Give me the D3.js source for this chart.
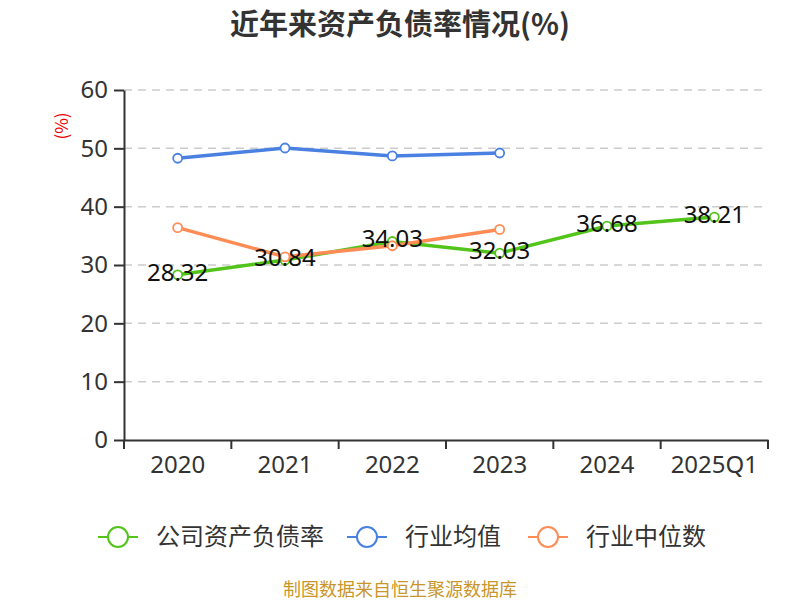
<!DOCTYPE html>
<html>
<head>
<meta charset="utf-8">
<script src="https://cdn.jsdelivr.net/npm/d3@7"></script>
<style>
body { margin: 0; background: #fff; }
svg { font-family: "Noto Sans CJK SC", "Noto Sans", sans-serif; }
</style>
</head>
<body>
<svg id="chart" width="800" height="600"></svg>
<script>
var years = ["2020", "2021", "2022", "2023", "2024", "2025Q1"];
var companyRate = [28.32, 30.84, 34.03, 32.03, 36.68, 38.21];
var industryAvg = [48.3, 50.06, 48.7, 49.2];
var industryMedian = [36.4, 31.4, 33.3, 36.1];
var yTicks = [0, 10, 20, 30, 40, 50, 60];
var seriesNames = ["公司资产负债率", "行业均值", "行业中位数"];
var seriesColors = ["#52c41a", "#4a80e2", "#ff8c55"];

var svg = d3.select("#chart");
var plotLeft = 124, plotRight = 768, plotTop = 90, plotBottom = 440;

var x = d3.scaleBand().domain(years).range([plotLeft, plotRight]);
var y = d3.scaleLinear().domain([0, 60]).range([plotBottom, plotTop]);

// title
svg.append("text")
	.attr("x", 400).attr("y", 35)
	.attr("text-anchor", "middle")
	.attr("font-size", 29).attr("font-weight", "bold")
	.attr("fill", "#333")
	.text("近年来资产负债率情况(%)");

// grid
svg.selectAll("line.grid")
	.data(yTicks.filter(function(d) { return d > 0; }))
	.enter().append("line")
	.attr("class", "grid")
	.attr("x1", plotLeft).attr("x2", plotRight)
	.attr("y1", function(d) { return y(d); })
	.attr("y2", function(d) { return y(d); })
	.attr("stroke", "#ccc").attr("stroke-width", 1.5)
	.attr("stroke-dasharray", "8,6");

// y axis
var yAxis = svg.append("g")
	.attr("transform", "translate(" + plotLeft + ",0)")
	.call(d3.axisLeft(y).tickValues(yTicks).tickSize(10).tickPadding(6).tickSizeOuter(0));
yAxis.select(".domain").attr("stroke", "#333").attr("stroke-width", 2);
yAxis.selectAll(".tick line").attr("stroke", "#333").attr("stroke-width", 2);
yAxis.selectAll(".tick text").attr("font-size", 24).attr("fill", "#333")
	.attr("font-family", "'Noto Sans', sans-serif");

// x axis
var xAxis = svg.append("g")
	.attr("transform", "translate(0," + plotBottom + ")")
	.call(d3.axisBottom(x).tickSize(0).tickPadding(16).tickSizeOuter(0));
xAxis.select(".domain").attr("stroke", "#333").attr("stroke-width", 2);
xAxis.selectAll(".tick text").attr("font-size", 24).attr("fill", "#333")
	.attr("font-family", "'Noto Sans', sans-serif");
var bounds = [plotLeft].concat(years.map(function(d) { return x(d) + x.bandwidth(); }));
xAxis.selectAll("line.xtick")
	.data(bounds)
	.enter().append("line")
	.attr("class", "xtick")
	.attr("x1", function(d) { return d; }).attr("x2", function(d) { return d; })
	.attr("y1", 0).attr("y2", 9)
	.attr("stroke", "#333").attr("stroke-width", 2);

// y unit label
svg.append("text")
	.attr("transform", "translate(68,126) rotate(-90)")
	.attr("text-anchor", "middle")
	.attr("font-size", 17).attr("fill", "#e00")
	.text("(%)");

function cx(d, i) { return x(years[i]) + x.bandwidth() / 2; }

function drawSeries(values, color) {
	var line = d3.line()
		.x(function(d, i) { return cx(d, i); })
		.y(function(d) { return y(d); });
	svg.append("path")
		.datum(values)
		.attr("d", line)
		.attr("fill", "none")
		.attr("stroke", color)
		.attr("stroke-width", 3.5);
	svg.selectAll(null)
		.data(values)
		.enter().append("circle")
		.attr("cx", cx)
		.attr("cy", function(d) { return y(d); })
		.attr("r", 4.5)
		.attr("fill", "#fff")
		.attr("stroke", color)
		.attr("stroke-width", 1.8);
}

drawSeries(companyRate, seriesColors[0]);
drawSeries(industryAvg, seriesColors[1]);
drawSeries(industryMedian, seriesColors[2]);

// value labels
svg.selectAll("text.vlabel")
	.data(companyRate)
	.enter().append("text")
	.attr("class", "vlabel")
	.attr("x", cx)
	.attr("y", function(d) { return y(d) + 6; })
	.attr("text-anchor", "middle")
	.attr("font-size", 24)
	.attr("font-family", "'Noto Sans', sans-serif")
	.attr("fill", "#111")
	.text(function(d) { return d.toFixed(2); });

// legend
var legendX = [98, 347, 528];
var legend = svg.selectAll("g.legend")
	.data(seriesNames)
	.enter().append("g")
	.attr("class", "legend")
	.attr("transform", function(d, i) { return "translate(" + legendX[i] + ",537)"; });
legend.append("line")
	.attr("x1", 0).attr("x2", 40)
	.attr("stroke", function(d, i) { return seriesColors[i]; })
	.attr("stroke-width", 2);
legend.append("circle")
	.attr("cx", 20).attr("r", 10)
	.attr("fill", "#fff")
	.attr("stroke", function(d, i) { return seriesColors[i]; })
	.attr("stroke-width", 2);
legend.append("text")
	.attr("x", 58).attr("y", 8)
	.attr("font-size", 24).attr("fill", "#333")
	.text(function(d) { return d; });

// footer
svg.append("text")
	.attr("x", 400).attr("y", 596)
	.attr("text-anchor", "middle")
	.attr("font-size", 18).attr("fill", "#c8962a")
	.text("制图数据来自恒生聚源数据库");
</script>
</body>
</html>
